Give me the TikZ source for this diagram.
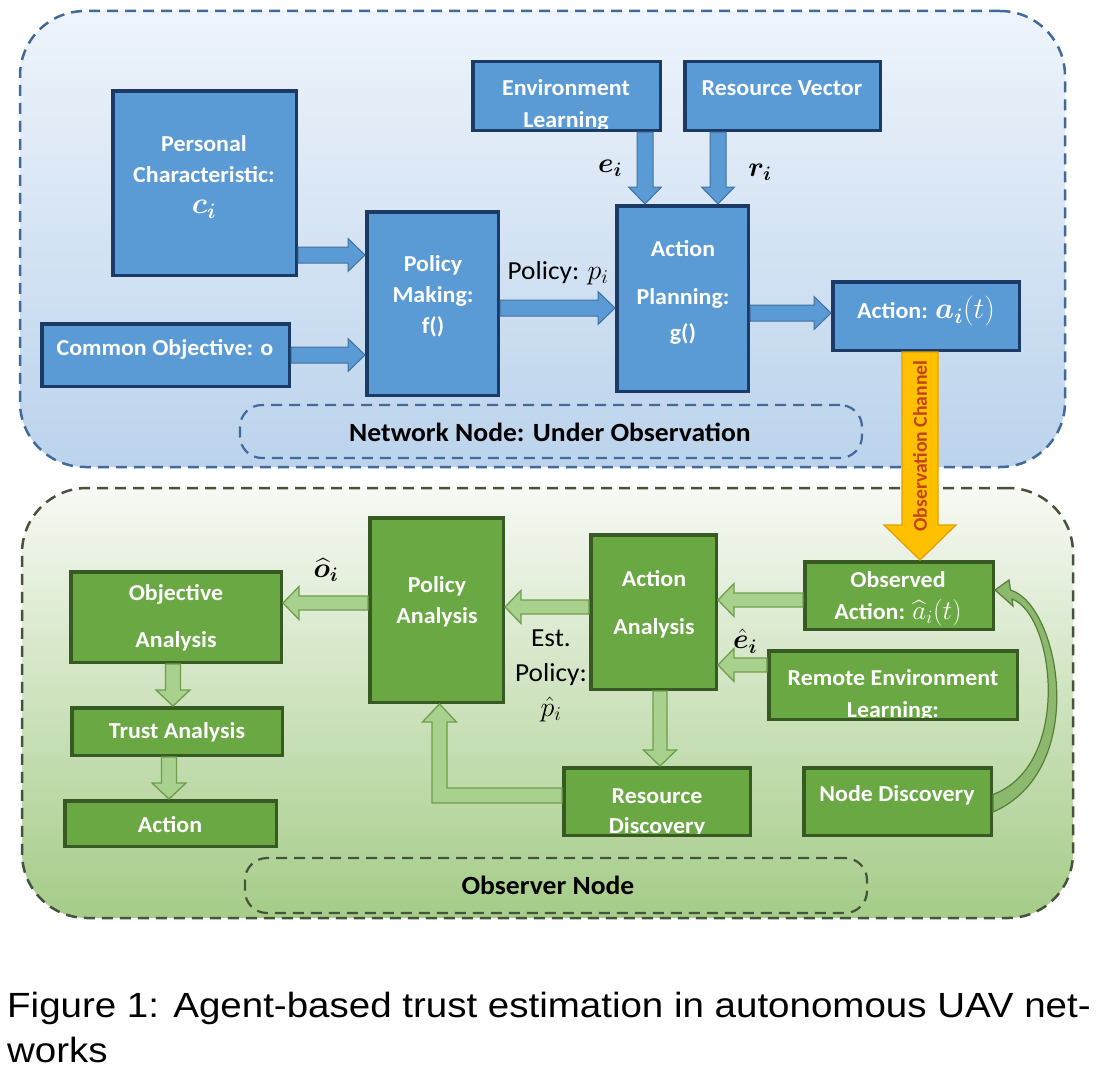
\RequirePackage{fix-cm}
\documentclass[tikz,border=0pt]{standalone}
\usepackage{fontspec}
\usepackage{amsmath}
\usepackage{bm}
\setmainfont{Carlito}[FakeStretch=1.05]
\newfontfamily\capfont{Liberation Sans}[FakeStretch=1.1]
\newfontfamily\ocfont{Carlito}
\usetikzlibrary{calc}
\definecolor{bluefill}{HTML}{5B9BD5}
\definecolor{bluebord}{HTML}{1B3A66}
\definecolor{bluearr}{HTML}{41719C}
\definecolor{greenfill}{HTML}{6AA843}
\definecolor{greenbord}{HTML}{375A22}
\definecolor{garfill}{HTML}{A9D18E}
\definecolor{garbord}{HTML}{6E9E4C}
\definecolor{topdash}{HTML}{41699A}
\definecolor{botdash}{HTML}{46533C}
\definecolor{orfill}{HTML}{FFC000}
\definecolor{orbord}{HTML}{E3A000}
\definecolor{octext}{HTML}{C4421A}
\definecolor{curvefill}{HTML}{8DB96E}
\definecolor{curvebord}{HTML}{557F38}
\newcommand\mathsz{\fontsize{28}{30}\selectfont}
\newcommand\mathbig{\fontsize{30}{30}\selectfont}
\newcommand\BArrow[6]{%
  \coordinate (bab) at ($(#3)!#6!(#2)$);
  \draw[#1] ($(#2)!#4!90:(#3)$) -- ($(bab)!#4!90:(#3)$) -- ($(bab)!#5!90:(#3)$) -- (#3) -- ($(bab)!#5!-90:(#3)$) -- ($(bab)!#4!-90:(#3)$) -- ($(#2)!#4!-90:(#3)$) -- cycle;}
\begin{document}
\begin{tikzpicture}[x=1pt,y=-1pt,
  region/.style={rounded corners=65pt, line width=2.5pt, dash pattern=on 11pt off 7pt, inner sep=0pt},
  lblbox/.style={rounded corners=22pt, line width=2.2pt, dash pattern=on 11pt off 7pt, inner sep=0pt},
  bluebox/.style={draw=bluebord, fill=bluefill, line width=3.5pt, inner sep=0pt},
  greenbox/.style={draw=greenbord, fill=greenfill, line width=3.5pt, inner sep=0pt},
  btxt/.style={text=white, align=center, inner sep=0pt, font=\bfseries\fontsize{22.8}{#1}\selectfont},
  btxt/.default=31,
  ktxt/.style={text=black, inner sep=0pt, font=\bfseries\fontsize{26.3}{30}\selectfont},
  mlab/.style={text=black, inner sep=0pt, font=\mathsz},
  plab/.style={text=black, inner sep=0pt, align=center, font=\fontsize{26}{35}\selectfont},
  barrow/.style={fill=bluefill, draw=bluearr, line width=1pt},
  garrow/.style={fill=garfill, draw=garbord, line width=1.3pt},
  oarrow/.style={fill=orfill, draw=orbord, line width=1.3pt},
  curvearr/.style={fill=curvefill, draw=curvebord, line width=1.2pt},
  captxt/.style={anchor=base west, inner sep=0pt, font=\capfont\fontsize{35}{45}\selectfont}
]
\useasboundingbox (0,0) rectangle (1097,1073);
\fill[white] (0,0) rectangle (1097,1073);

% regions
\node[region, draw=topdash, top color={rgb,255:red,238;green,244;blue,251}, bottom color={rgb,255:red,187;green,211;blue,236}, minimum width=1045pt, minimum height=456pt] (topreg) at (542.5,239) {};
\node[region, draw=botdash, top color={rgb,255:red,247;green,249;blue,244}, bottom color={rgb,255:red,165;green,204;blue,136}, minimum width=1051pt, minimum height=430pt] (botreg) at (547.5,703) {};
\node[lblbox, draw=topdash, minimum width=622pt, minimum height=53pt] (nnbox) at (551,431.5) {};
\node[lblbox, draw=botdash, minimum width=622pt, minimum height=55pt] (onbox) at (556,885.5) {};
\node[ktxt] (nnt) at (550,432) {Network Node: Under Observation};
\node[ktxt] (ont) at (548,885) {Observer Node};

% top boxes
\node[bluebox, minimum width=183.5pt, minimum height=184.5pt] (pc) at (204.5,183) {};
\node[bluebox, minimum width=247.5pt, minimum height=62.5pt] (co) at (165.5,355) {};
\node[bluebox, minimum width=131.5pt, minimum height=183.5pt] (pm) at (432.5,303.5) {};
\node[bluebox, minimum width=187.5pt, minimum height=68.5pt] (env) at (566.5,96) {};
\node[bluebox, minimum width=195.5pt, minimum height=68.5pt] (rv) at (782.5,96) {};
\node[bluebox, minimum width=131.5pt, minimum height=185.5pt] (ap) at (682.5,298.5) {};
\node[bluebox, minimum width=186.5pt, minimum height=68.5pt] (act) at (926,316) {};

% bottom boxes
\node[greenbox, minimum width=188.5pt, minimum height=67.5pt] (obs) at (899,595.5) {};

% observation channel
\coordinate (ocs) at ([xshift=-6pt]act.south);
\coordinate (oce) at (ocs |- obs.north);
\BArrow{oarrow}{ocs}{oce}{18pt}{36pt}{35pt}
\node[rotate=90, inner sep=0pt, text=octext, font=\ocfont\bfseries\fontsize{19.7}{20}\selectfont] (oct) at (920,446) {Observation Channel};

\node[greenbox, minimum width=210.5pt, minimum height=90.5pt] (oa) at (176,617) {};
\node[greenbox, minimum width=210.5pt, minimum height=47.5pt] (ta) at (177,731.5) {};
\node[greenbox, minimum width=211.5pt, minimum height=45.5pt] (ac) at (170.5,823.5) {};
\node[greenbox, minimum width=133.5pt, minimum height=184.5pt] (pa) at (436.5,610) {};
\node[greenbox, minimum width=125.5pt, minimum height=154.5pt] (aa) at (653.5,612) {};
\node[greenbox, minimum width=248.5pt, minimum height=68.5pt] (rel) at (893,685) {};
\node[greenbox, minimum width=186.5pt, minimum height=67.5pt] (rd) at (657,801.5) {};
\node[greenbox, minimum width=187.5pt, minimum height=67.5pt] (nd) at (897.5,801.5) {};

% box texts
\node[btxt] (pct) at (204,177) {Personal\\Characteristic:\\{\mathbig$\bm{c_i}$}};
\node[btxt] (cot) at (165,349) {Common Objective: o};
\node[btxt] (pmt) at (433,296) {Policy\\Making:\\f()};
\begin{scope}
\clip ($(env.south west)+(3.5,-3.5)$) rectangle ($(env.north east)+(-3.5,3.5)$);
\node[btxt=32] (envt) at (566,105) {Environment\\Learning};
\end{scope}
\node[btxt] (rvt) at (782,88) {Resource Vector};
\node[btxt=36] (apt) at (683,292) {Action\\[12pt]Planning:\\g()};
\node[btxt] (actt) at (926,311) {Action: {\mathbig$\bm{a_i}(t)$}};
\node[btxt=47] (oat) at (176,618) {Objective\\Analysis};
\node[btxt] (tat) at (177,732) {Trust Analysis};
\node[btxt] (act2) at (170,825) {Action};
\node[btxt] (pat) at (437,602) {Policy\\Analysis};
\node[btxt=48] (aat) at (654,604) {Action\\Analysis};
\node[btxt=32] (obst) at (898,599) {Observed\\Action: {\fontsize{27}{30}\selectfont$\widehat{a}_i(t)$}};
\begin{scope}
\clip ($(rel.south west)+(3.5,-3.5)$) rectangle ($(rel.north east)+(-3.5,3.5)$);
\node[btxt=32] (relt) at (893,695) {Remote Environment\\Learning:};
\end{scope}
\begin{scope}
\clip ($(rd.south west)+(3.5,-3.5)$) rectangle ($(rd.north east)+(-3.5,3.5)$);
\node[btxt=30] (rdt) at (657,813) {Resource\\Discovery};
\end{scope}
\node[btxt] (ndt) at (897,795) {Node Discovery};

% top arrows
\coordinate (a1s) at ([yshift=-72pt]pc.east);
\coordinate (a1e) at (a1s -| pm.west);
\BArrow{barrow}{a1s}{a1e}{8pt}{16.5pt}{17pt}
\coordinate (a2s) at (co.east);
\coordinate (a2e) at (co.east -| pm.west);
\BArrow{barrow}{a2s}{a2e}{8pt}{16.5pt}{17pt}
\coordinate (a3s) at ([yshift=-4.5pt]pm.east);
\coordinate (a3e) at (a3s -| ap.west);
\BArrow{barrow}{a3s}{a3e}{8pt}{16.5pt}{17pt}
\coordinate (a4s) at ([xshift=78.5pt]env.south);
\coordinate (a4e) at (a4s |- ap.north);
\BArrow{barrow}{a4s}{a4e}{8pt}{16.5pt}{17pt}
\coordinate (a5s) at ([xshift=-64.5pt]rv.south);
\coordinate (a5e) at (a5s |- ap.north);
\BArrow{barrow}{a5s}{a5e}{8pt}{16.5pt}{17pt}
\coordinate (a6s) at ([yshift=-14.5pt]ap.east);
\coordinate (a6e) at (a6s -| act.west);
\BArrow{barrow}{a6s}{a6e}{8pt}{16.5pt}{17pt}

% bottom arrows
\coordinate (g1s) at ([yshift=7pt]pa.west);
\coordinate (g1e) at (g1s -| oa.east);
\BArrow{garrow}{g1s}{g1e}{7pt}{16.5pt}{16pt}
\coordinate (g2s) at ([yshift=5pt]aa.west);
\coordinate (g2e) at (g2s -| pa.east);
\BArrow{garrow}{g2s}{g2e}{7pt}{16.5pt}{16pt}
\coordinate (g3s) at ([yshift=-4.5pt]obs.west);
\coordinate (g3e) at (g3s -| aa.east);
\BArrow{garrow}{g3s}{g3e}{7pt}{16.5pt}{16pt}
\coordinate (g4s) at ([yshift=20pt]rel.west);
\coordinate (g4e) at (g4s -| aa.east);
\BArrow{garrow}{g4s}{g4e}{7pt}{16.5pt}{16pt}
\coordinate (g5s) at ([xshift=6.5pt]aa.south);
\coordinate (g5e) at (g5s |- rd.north);
\BArrow{garrow}{g5s}{g5e}{7pt}{16.5pt}{16pt}
\coordinate (g6s) at ([xshift=-3pt]oa.south);
\coordinate (g6e) at (g6s |- ta.north);
\BArrow{garrow}{g6s}{g6e}{7.5pt}{17pt}{16pt}
\coordinate (g7s) at ([xshift=-8pt]ta.south);
\coordinate (g7e) at (g7s |- ac.north);
\BArrow{garrow}{g7s}{g7e}{7.5pt}{17pt}{16pt}
% elbow: resource discovery -> policy analysis
\coordinate (g8s) at ([yshift=6pt]rd.west);
\coordinate (g8e) at ([xshift=3pt]pa.south);
\coordinate (g8k) at (g8s -| g8e);
\draw[garrow] ($(g8s)+(0,-7.5)$) -- ($(g8k)+(7.5,-7.5)$) -- ($(g8e)+(7.5,18)$) -- ($(g8e)+(17,18)$) -- (g8e) -- ($(g8e)+(-17,18)$) -- ($(g8e)+(-7.5,18)$) -- ($(g8k)+(-7.5,7.5)$) -- ($(g8s)+(0,7.5)$) -- cycle;
% curved: node discovery -> observed action
\draw[curvearr] ($(nd.east)+(0,10.5)$) .. controls (1090,770) and (1060,605) .. (1010.5,590) -- (1009,580) -- ($(obs.east)+(0,-5.5)$) -- (1013,606) -- (1012,599) .. controls (1055,615) and (1072,765) .. ($(nd.east)+(0,-7)$) -- cycle;

% labels
\node[mlab] (eil) at (610,168) {$\bm{e_i}$};
\node[mlab] (ril) at (760,172) {$\bm{r_i}$};
\node[plab] (pol) at (558,273) {Policy: {\mathsz$p_i$}};
\node[mlab] (ohl) at (326,570) {$\widehat{\bm{o}}_{\bm{i}}$};
\node[mlab] (ehl) at (745,641) {$\hat{\bm{e}}_{\bm{i}}$};
\node[plab] (estl) at (551,676) {Est.\\Policy:\\{\mathsz$\hat{p}_i$}};

% caption
\node[captxt] (cap1) at (7,1017) {Figure 1: Agent-based trust estimation in autonomous UAV net-};
\node[captxt] (cap2) at (7,1062) {works};
\end{tikzpicture}
\end{document}
